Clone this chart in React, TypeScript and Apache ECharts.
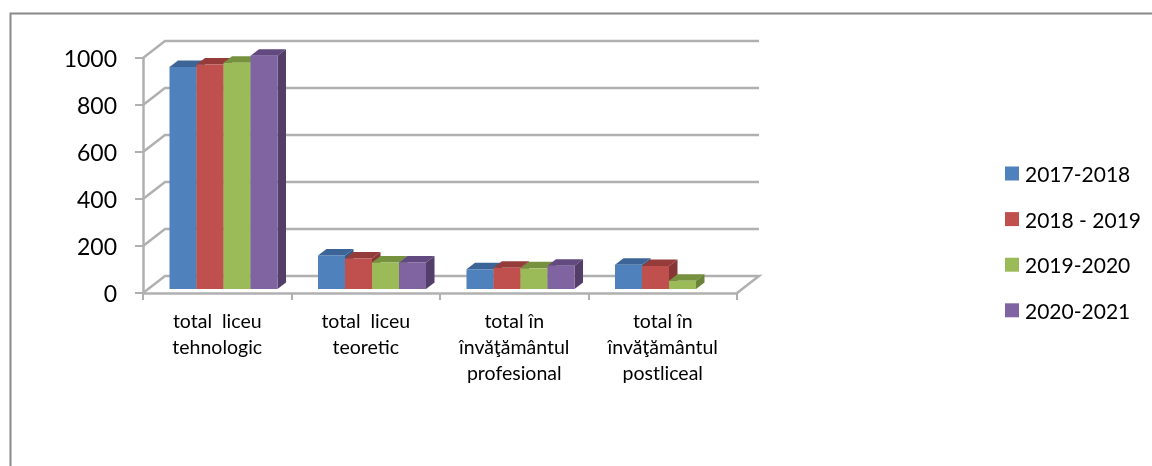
import React, { useEffect, useRef } from "react";
import * as echarts from "echarts";

const categories = [
  "total  liceu\ntehnologic",
  "total  liceu\nteoretic",
  "total în\nînvăţământul\nprofesional",
  "total în\nînvăţământul\npostliceal",
];
const yTicks = [0, 200, 400, 600, 800, 1000];
const names = ["2017-2018", "2018 - 2019", "2019-2020", "2020-2021"];
const v2017 = [945, 143, 84, 103];
const v2018 = [955, 130, 90, 98];
const v2019 = [963, 113, 88, 35];
const v2020 = [993, 113, 99, null];
const seriesValues = [v2017, v2018, v2019, v2020];
const colors = ["#4F81BD", "#C0504D", "#9BBB59", "#8064A2"];
const topColors = ["#3C6496", "#953C3A", "#76923F", "#62497F"];
const sideColors = ["#365A87", "#863634", "#6A8339", "#533E6A"];

const FONT = "Lato";
const GRID = "#B0B0B0";
const WALL_DX = 22;
const WALL_DY = -17;
const BAR_DX = 8.5;
const BAR_DY = -6.5;
const BAR_BASE_LIFT = 4;
const BAR_FRACTION = 27 / 148.5;
const GROUP_SHIFT = 6.25;

export default function App() {
  const ref = useRef<HTMLDivElement>(null);
  useEffect(() => {
    const chart = echarts.init(ref.current!, null, { renderer: "svg" });

    const frameSeries = {
      type: "custom",
      silent: true,
      clip: false,
      z: 1,
      data: yTicks.map((t) => [0, t]),
      encode: { x: 0, y: 1 },
      renderItem: (params: any, api: any) => {
        const cs = params.coordSys;
        const y = api.coord([0, api.value(1)])[1];
        const left = cs.x;
        const right = cs.x + cs.width;
        const pts = [
          [left, y],
          [left + WALL_DX, y + WALL_DY],
          [right + WALL_DX, y + WALL_DY],
        ];
        if (api.value(1) === 0) pts.push([right, y]);
        return {
          type: "polyline",
          shape: { points: pts },
          style: { fill: "none", stroke: GRID, lineWidth: 2.5 },
        };
      },
    };

    const barSeries = seriesValues.map((values, s) => ({
      type: "custom",
      name: names[s],
      silent: true,
      clip: false,
      z: 2 + s,
      itemStyle: { color: colors[s] },
      data: values.map((v, j) => [j, v]),
      encode: { x: 0, y: 1 },
      renderItem: (_: any, api: any) => {
        const val = api.value(1);
        if (val == null || Number.isNaN(val)) return null;
        const [cx, yTop0] = api.coord([api.value(0), val]);
        const y0 = api.coord([api.value(0), 0])[1];
        const w = api.size([1, 0])[0] * BAR_FRACTION;
        const x1 = cx + GROUP_SHIFT + (s - 2) * w;
        const x2 = x1 + w;
        const yb = y0 - BAR_BASE_LIFT;
        const yt = yTop0 - BAR_BASE_LIFT;
        return {
          type: "group",
          children: [
            {
              type: "polygon",
              shape: { points: [[x1, yt], [x1 + BAR_DX, yt + BAR_DY], [x2 + BAR_DX, yt + BAR_DY], [x2, yt]] },
              style: { fill: topColors[s] },
            },
            {
              type: "polygon",
              shape: { points: [[x2, yt], [x2 + BAR_DX, yt + BAR_DY], [x2 + BAR_DX, yb + BAR_DY], [x2, yb]] },
              style: { fill: sideColors[s] },
            },
            {
              type: "rect",
              shape: { x: x1, y: yt, width: w, height: yb - yt },
              style: { fill: colors[s] },
            },
          ],
        };
      },
    }));

    chart.setOption({
      animation: false,
      backgroundColor: "#fff",
      textStyle: { fontFamily: FONT },
      grid: { left: 143, top: 58, width: 594, height: 235, containLabel: false },
      legend: {
        orient: "vertical",
        left: 1005,
        top: 163,
        padding: 0,
        itemWidth: 14,
        itemHeight: 14,
        itemGap: 24.6,
        icon: "rect",
        data: names,
        selectedMode: false,
        textStyle: { fontFamily: FONT, fontSize: 21, color: "#000", padding: [0, 0, 0, 1], lineHeight: 21 },
      },
      xAxis: {
        type: "category",
        data: categories,
        axisLine: { lineStyle: { color: GRID, width: 2.5 } },
        axisTick: { show: true, length: 7, alignWithLabel: false, lineStyle: { color: GRID, width: 2 } },
        axisLabel: {
          interval: 0,
          margin: 14,
          fontFamily: FONT,
          fontSize: 19.5,
          lineHeight: 26,
          color: "#000",
        },
      },
      yAxis: {
        type: "value",
        min: 0,
        max: 1000,
        interval: 200,
        splitLine: { show: false },
        axisLine: { show: true, lineStyle: { color: GRID, width: 2.5 } },
        axisTick: { show: true, length: 8, lineStyle: { color: GRID, width: 2 } },
        axisLabel: { margin: 26, fontFamily: FONT, fontSize: 23, color: "#000", formatter: (v: number) => String(v) },
      },
      graphic: [
        {
          type: "polyline",
          silent: true,
          shape: { points: [[10.5, 466], [10.5, 13.5], [1152, 13.5]] },
          style: { fill: "none", stroke: "#8A8A8A", lineWidth: 2 },
        },
      ],
      series: [frameSeries, ...barSeries],
    });
    return () => chart.dispose();
  }, []);
  return (
    <div
      ref={ref}
      style={{ position: "fixed", left: 0, top: 0, width: 1152, height: 466, background: "#fff", filter: "blur(0.4px)" }}
    />
  );
}
